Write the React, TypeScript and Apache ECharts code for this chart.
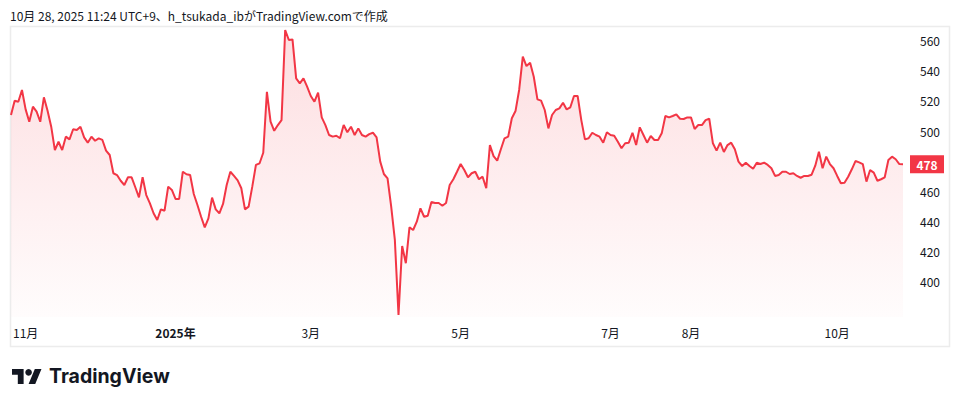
import React, { useEffect, useRef } from "react";
import * as echarts from "echarts";

// Trading calendar (Tokyo): weekdays between these dates, minus market holidays
const START_DATE = "2024-10-28";
const END_DATE = "2025-10-28";
const HOLIDAYS = [
  "2024-11-04", "2024-12-31", "2025-01-01", "2025-01-02", "2025-01-03",
  "2025-01-13", "2025-02-11", "2025-02-24", "2025-03-20", "2025-04-29",
  "2025-05-05", "2025-05-06", "2025-07-21", "2025-08-11", "2025-09-15",
  "2025-09-23", "2025-10-13",
];

// Months whose first trading day gets a label on the time scale
const LABELED_MONTHS = ["2024-11", "2025-01", "2025-03", "2025-05", "2025-07", "2025-08", "2025-10"];

// Daily closes
const closes = [
  510.7, 520.2, 519.5, 527.3, 514.4, 506.2, 516.2, 512.9, 506.2, 522.4,
  513.5, 502.9, 487.4, 492.9, 487.4, 496.3, 494.5, 501.2, 500.7, 502.9,
  495.8, 492.3, 496.3, 493.6, 495.2, 494.1, 487.0, 484.1, 472.0, 470.8,
  467.0, 464.2, 469.3, 469.3, 462.7, 456.0, 469.3, 457.5, 452.0, 445.4,
  440.9, 448.0, 447.1, 463.1, 460.9, 454.9, 454.9, 473.0, 471.3, 470.8,
  458.2, 450.9, 443.1, 436.0, 442.0, 455.8, 448.0, 445.4, 451.6, 464.2,
  473.0, 470.2, 467.3, 462.0, 448.0, 449.8, 463.1, 477.5, 478.6, 485.6,
  526.1, 506.2, 500.2, 504.0, 507.3, 567.1, 560.5, 560.9, 535.0, 531.7,
  535.0, 529.5, 523.3, 519.5, 525.5, 509.1, 504.0, 497.4, 496.3, 496.9,
  495.2, 504.0, 499.2, 502.9, 497.4, 501.8, 497.4, 496.3, 498.0, 498.9,
  495.8, 479.7, 471.5, 468.6, 449.8, 427.7, 377.9, 423.7, 412.2, 436.0,
  434.3, 439.8, 448.7, 443.1, 443.8, 452.9, 452.2, 452.2, 450.4, 452.2,
  464.2, 468.0, 473.0, 478.1, 474.1, 469.3, 472.0, 473.0, 468.0, 469.7,
  462.0, 490.7, 483.4, 480.3, 487.9, 495.2, 496.3, 508.5, 513.3, 527.3,
  549.4, 543.2, 545.4, 536.1, 521.1, 520.2, 514.0, 501.8, 510.7, 514.0,
  515.1, 518.8, 514.4, 515.8, 523.3, 523.3, 507.3, 494.5, 495.2, 498.9,
  497.4, 496.3, 492.3, 499.2, 497.4, 496.9, 492.9, 488.6, 491.9, 492.3,
  498.9, 490.7, 502.5, 497.4, 492.3, 496.7, 494.1, 494.1, 498.5, 510.0,
  509.1, 510.0, 511.1, 508.2, 508.0, 509.1, 509.1, 501.4, 504.0, 504.0,
  507.3, 508.2, 491.9, 487.0, 492.3, 486.1, 490.7, 492.3, 487.9, 479.7,
  476.8, 479.0, 476.8, 475.0, 479.0, 478.1, 479.0, 477.5, 475.3, 470.2,
  470.8, 473.0, 473.0, 471.5, 472.0, 470.2, 469.0, 470.2, 470.2, 471.0,
  477.0, 486.3, 475.3, 483.0, 478.1, 475.3, 470.2, 465.3, 465.7, 469.7,
  474.6, 480.1, 479.2, 478.1, 466.4, 474.1, 472.4, 467.0, 468.0, 469.3,
  480.8, 483.0, 481.3, 478.1, 478.0,
];

const PRICE_TICKS = [400, 420, 440, 460, 500, 520, 540, 560];
const PRICE_MIN = 376.5;
const PRICE_MAX = 569.8;

const HEADER = "10月 28, 2025 11:24 UTC+9、h_tsukada_ibがTradingView.comで作成";
const BRAND = "TradingView";

const RED = "#f23645";
const INK = "#131722";
const FONT = "'Noto Sans CJK JP', 'Noto Sans', sans-serif";

function tradingDays(): string[] {
  const out: string[] = [];
  const hol = new Set(HOLIDAYS);
  const d = new Date(START_DATE + "T00:00:00Z");
  const end = new Date(END_DATE + "T00:00:00Z");
  while (d.getTime() <= end.getTime()) {
    const dow = d.getUTCDay();
    const s = d.toISOString().slice(0, 10);
    if (dow !== 0 && dow !== 6 && !hol.has(s)) out.push(s);
    d.setUTCDate(d.getUTCDate() + 1);
  }
  return out;
}

const LOGO_PATH = "M14 22H7V11H0V4h14v18zM28 22h-8l7.5-18h8L28 22z";
let registered = false;

export default function App() {
  const ref = useRef<HTMLDivElement>(null);

  useEffect(() => {
    if (!ref.current) return;
    if (!registered) {
      echarts.graphic.registerShape("tvlogo", echarts.graphic.extendPath(LOGO_PATH, {}) as any);
      registered = true;
    }
    const dates = tradingDays();
    const n = Math.min(dates.length, closes.length);
    const cats = dates.slice(0, n);
    const vals = closes.slice(0, n);

    const labelSet = new Set<string>();
    const seen = new Set<string>();
    cats.forEach((c) => {
      const m = c.slice(0, 7);
      if (!seen.has(m)) {
        seen.add(m);
        if (LABELED_MONTHS.includes(m)) labelSet.add(c);
      }
    });

    const chart = echarts.init(ref.current, undefined, { renderer: "svg" });
    const last = vals[vals.length - 1];

    chart.setOption({
      animation: false,
      backgroundColor: "#ffffff",
      grid: { left: 11, right: 57, top: 26, bottom: 90 },
      xAxis: {
        type: "category",
        data: cats,
        boundaryGap: false,
        axisLine: { show: false },
        axisTick: { show: false },
        splitLine: { show: false },
        axisLabel: {
          interval: (_i: number, v: string) => labelSet.has(v),
          showMinLabel: true,
          showMaxLabel: true,
          margin: 9,
          color: INK,
          fontSize: 12,
          fontFamily: FONT,
          formatter: (v: string) => {
            const m = parseInt(v.slice(5, 7), 10);
            if (m === 1) return "{b|" + v.slice(0, 4) + "年}";
            return m + "月";
          },
          rich: { b: { fontWeight: "bold", fontSize: 12, color: INK, fontFamily: FONT } },
        },
      },
      yAxis: {
        type: "value",
        position: "right",
        min: PRICE_MIN,
        max: PRICE_MAX,
        scale: true,
        axisLine: { show: false },
        axisTick: { show: false },
        splitLine: { show: false },
        axisLabel: {
          customValues: PRICE_TICKS,
          align: "left",
          margin: 17,
          color: INK,
          fontSize: 12,
          fontFamily: FONT,
        },
      },
      series: [
        {
          type: "line",
          data: vals,
          showSymbol: false,
          symbol: "none",
          lineStyle: { color: RED, width: 2 },
          itemStyle: { color: RED },
          areaStyle: {
            origin: "start",
            color: new echarts.graphic.LinearGradient(0, 0, 0, 1, [
              { offset: 0, color: "rgba(242,54,69,0.24)" },
              { offset: 1, color: "rgba(242,54,69,0.02)" },
            ]),
          },
          markPoint: {
            symbol: "rect",
            symbolSize: [34, 18],
            symbolOffset: [24, 0],
            itemStyle: { color: RED },
            label: {
              show: true,
              position: "inside",
              color: "#ffffff",
              fontSize: 12,
              fontWeight: "bold",
              fontFamily: FONT,
              formatter: (p: any) => String(Math.round(p.value)),
            },
            data: [{ coord: [cats[cats.length - 1], last], value: last }],
          },
        },
      ],
      graphic: [
        {
          type: "rect",
          silent: true,
          shape: { x: 10.5, y: 26.5, width: 939, height: 320 },
          style: { fill: "none", stroke: "#ececec", lineWidth: 1.5 },
          z: -1,
        },
        {
          type: "text",
          x: 10,
          y: 15,
          style: {
            text: HEADER,
            fill: INK,
            font: "12px " + FONT,
            verticalAlign: "middle",
          },
        },
        {
          type: "tvlogo",
          x: 12,
          y: 365.7,
          scaleX: 0.83,
          scaleY: 0.83,
          style: { fill: INK },
        },
        {
          type: "circle",
          shape: { cx: 12 + 20 * 0.83, cy: 365.7 + 8 * 0.83, r: 4 * 0.83 },
          style: { fill: INK },
        },
        {
          type: "text",
          x: 49,
          y: 376,
          style: {
            text: BRAND,
            fill: INK,
            font: "bold 19.5px Inter, 'Noto Sans', sans-serif",
            verticalAlign: "middle",
          },
        },
      ],
    });

    return () => chart.dispose();
  }, []);

  return (
    <div
      ref={ref}
      style={{ position: "absolute", left: 0, top: 0, width: 960, height: 407, background: "#fff" }}
    />
  );
}
